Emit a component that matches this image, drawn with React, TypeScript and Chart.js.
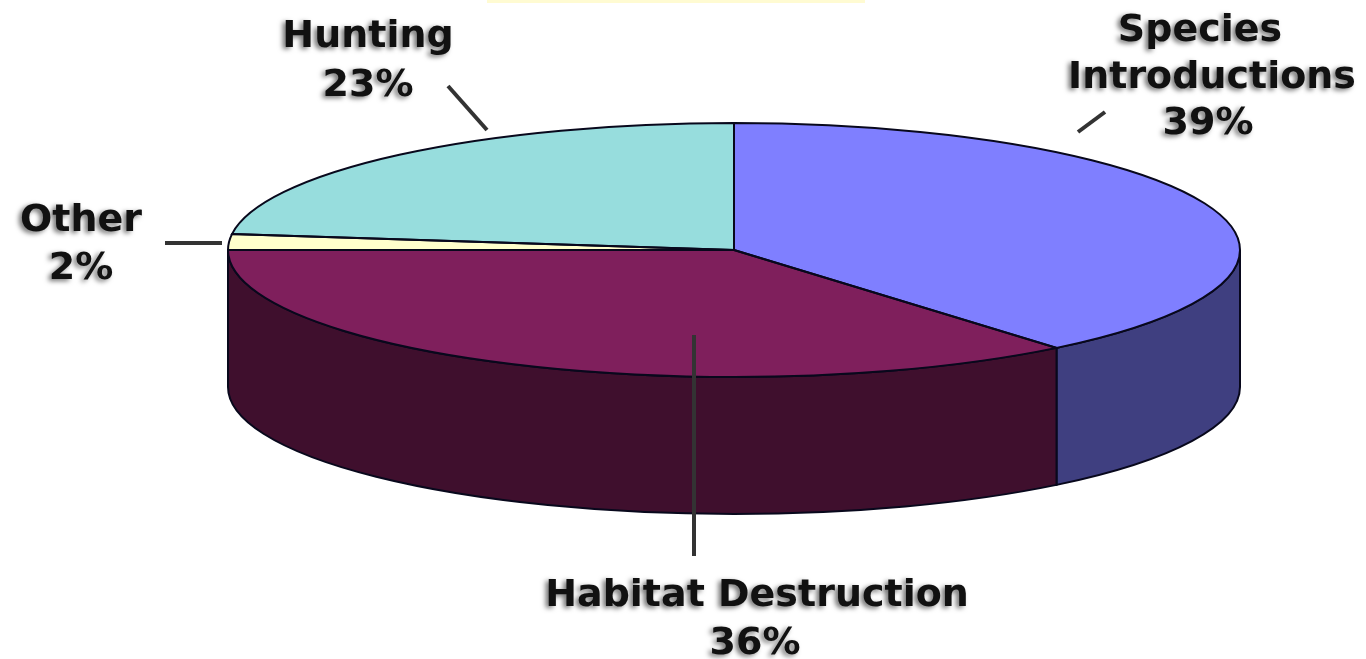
import React, { useEffect, useRef } from "react";
import { Chart, registerables } from "chart.js";

Chart.register(...registerables);

const categories = ["Species Introductions", "Habitat Destruction", "Other", "Hunting"];
const shares = [39, 36, 2, 23];
const topColors = ["#7f7fff", "#7f1f5c", "#ffffcc", "#97dddd"];
const sideColors = ["#3f3f80", "#3f0f2d", "#7f7f66", "#4b6e6e"];

const labelLines = [
  ["Species", "Introductions", "39%"],
  ["Habitat Destruction", "36%"],
  ["Other", "2%"],
  ["Hunting", "23%"],
];

const FONT_PX = 38;
const ELLIPSE = { cx: 734, cy: 250, rx: 506, ry: 127, depth: 137 };
const LABEL_ANCHORS = [
  [[1200, 41], [1212, 88], [1208, 134]],
  [[757, 606], [755, 654]],
  [[81, 231], [81, 279]],
  [[368, 47], [368, 96]],
];
const LEADERS = [
  [1078, 132, 1105, 112],
  [694, 335, 694, 556],
  [165, 243, 222, 243],
  [448, 86, 487, 130],
];

const pie3d = {
  id: "pie3d",
  beforeDatasetsDraw(chart: any) {
    const { ctx } = chart;
    const arcs = chart.getDatasetMeta(0).data;
    const { cx, cy, rx, ry, depth } = ELLIPSE;

    // faint remnant of a cropped title along the top edge
    ctx.fillStyle = "#fffbd2";
    ctx.fillRect(487, 0, 378, 3);

    // side wall of the disc, from each arc's own angles
    ctx.save();
    ctx.lineWidth = 2;
    ctx.strokeStyle = "#08081c";
    arcs.forEach((arc: any, i: number) => {
      const from = Math.max(arc.startAngle, 0);
      const to = Math.min(arc.endAngle, Math.PI);
      if (to <= from) return;
      ctx.beginPath();
      ctx.ellipse(cx, cy, rx, ry, 0, from, to);
      ctx.ellipse(cx, cy + depth, rx, ry, 0, to, from, true);
      ctx.closePath();
      ctx.fillStyle = sideColors[i];
      ctx.fill();
      ctx.stroke();
    });
    ctx.restore();

    // squash the library's round pie into the top ellipse
    const a = arcs[0];
    ctx.save();
    ctx.translate(cx, cy);
    ctx.scale(rx / a.outerRadius, ry / a.outerRadius);
    ctx.translate(-a.x, -a.y);
  },
  afterDatasetsDraw(chart: any) {
    const { ctx } = chart;
    ctx.restore();
    const arcs = chart.getDatasetMeta(0).data;
    const { cx, cy, rx, ry } = ELLIPSE;

    ctx.save();
    ctx.lineWidth = 2;
    ctx.strokeStyle = "#08081c";
    arcs.forEach((arc: any) => {
      ctx.beginPath();
      ctx.moveTo(cx, cy);
      ctx.ellipse(cx, cy, rx, ry, 0, arc.startAngle, arc.endAngle);
      ctx.closePath();
      ctx.stroke();
    });
    ctx.restore();
  },
  afterDraw(chart: any) {
    const { ctx } = chart;
    ctx.save();
    // leader lines
    ctx.strokeStyle = "#333333";
    ctx.lineWidth = 4;
    LEADERS.forEach(([x1, y1, x2, y2]) => {
      ctx.beginPath();
      ctx.moveTo(x1, y1);
      ctx.lineTo(x2, y2);
      ctx.stroke();
    });
    // labels
    ctx.font = `bold ${FONT_PX}px "DejaVu Sans"`;
    ctx.textAlign = "center";
    ctx.textBaseline = "alphabetic";
    labelLines.forEach((lines, i) => {
      lines.forEach((line, j) => {
        const [x, y] = LABEL_ANCHORS[i][j];
        ctx.shadowColor = "rgba(0,0,0,0.55)";
        ctx.shadowBlur = 5;
        ctx.shadowOffsetX = -3;
        ctx.shadowOffsetY = 2;
        ctx.fillStyle = "#111111";
        ctx.fillText(line, x, y);
      });
    });
    ctx.restore();
  },
};

export default function App() {
  const ref = useRef<HTMLCanvasElement>(null);
  useEffect(() => {
    document.body.style.margin = "0";
    document.body.style.background = "#ffffff";
    const chart = new Chart(ref.current as HTMLCanvasElement, {
      type: "pie",
      data: {
        labels: categories,
        datasets: [
          {
            data: shares,
            backgroundColor: topColors,
            borderWidth: 0,
            clip: false,
          } as any,
        ],
      },
      options: {
        animation: false,
        responsive: false,
        layout: { padding: 0 },
        plugins: { legend: { display: false }, tooltip: { enabled: false } },
      },
      plugins: [pie3d],
    });
    return () => chart.destroy();
  }, []);
  return (
    <canvas
      ref={ref}
      width={1366}
      height={659}
      style={{ display: "block", width: 1366, height: 659, filter: "blur(0.5px)" }}
    />
  );
}
